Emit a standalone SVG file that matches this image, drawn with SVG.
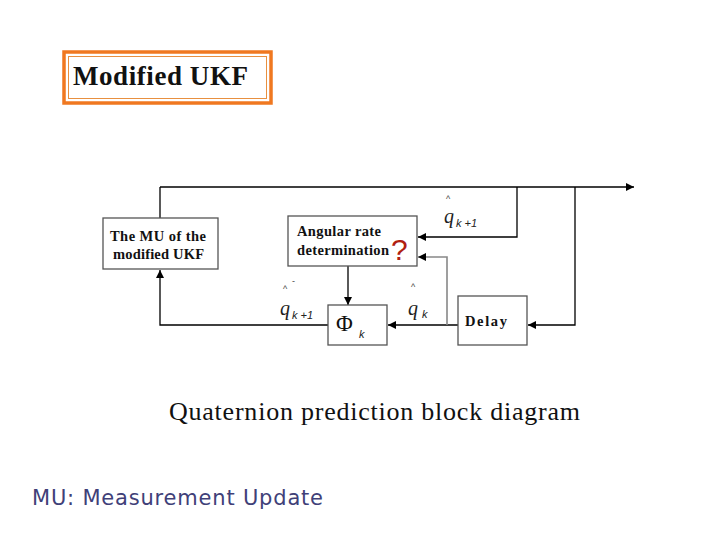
<svg xmlns="http://www.w3.org/2000/svg" width="720" height="540" viewBox="0 0 720 540">
<style>
.box{fill:#fff;stroke:#555;stroke-width:1.3}
.ln{fill:none;stroke:#000;stroke-width:1.3}
.gl{fill:none;stroke:#888;stroke-width:1.6}
.bt{font-family:"Liberation Serif",serif;font-weight:bold;font-size:14.5px;fill:#111}
.q{font-family:"Liberation Serif",serif;font-style:italic;font-size:20px;fill:#222}
.s{font-family:"Liberation Sans",sans-serif;font-style:italic;font-size:11px;fill:#222}
.h{font-family:"Liberation Sans",sans-serif;font-size:9px;fill:#444}
</style>
<defs>
<marker id="ah" viewBox="0 0 10 10" refX="10" refY="5" markerWidth="8" markerHeight="8" markerUnits="userSpaceOnUse" orient="auto"><path d="M0,0 L10,5 L0,10 z" fill="#000"/></marker>
</defs>
<rect width="720" height="540" fill="#fff"/>
<g id="title">
<rect x="64" y="52" width="207" height="51" fill="#fff" stroke="#f07820" stroke-width="3.5"/>
<rect x="68.5" y="56.5" width="198" height="42" fill="none" stroke="#e89040" stroke-width="1"/>
<text x="73" y="85" font-family="Liberation Serif,serif" font-weight="bold" font-size="27" fill="#111" textLength="175">Modified UKF</text>
</g>
<g id="connectors">
<line class="ln" x1="160" y1="187" x2="634" y2="187" marker-end="url(#ah)"/>
<line class="ln" x1="160" y1="187" x2="160" y2="218"/>
<polyline class="ln" points="328,325 160,325 160,270" marker-end="url(#ah)"/>
<line class="ln" x1="348" y1="266" x2="348" y2="305" marker-end="url(#ah)"/>
<line class="ln" x1="458" y1="325" x2="388" y2="325" marker-end="url(#ah)"/>
<polyline class="gl" points="447,325 447,257 418,257" marker-end="url(#ah)"/>
<polyline class="ln" points="517,187 517,237 418,237" marker-end="url(#ah)"/>
<polyline class="ln" points="575,187 575,325 528,325" marker-end="url(#ah)"/>
</g>
<g id="mu">
<rect class="box" x="103" y="218" width="115" height="51"/>
<text class="bt" x="110" y="241" textLength="96">The MU of the</text>
<text class="bt" x="113" y="259" textLength="91">modified UKF</text>
</g>
<g id="angular">
<rect class="box" x="288" y="216" width="129" height="50"/>
<text class="bt" x="297" y="236" textLength="84">Angular rate</text>
<text class="bt" x="297" y="255" textLength="92">determination</text>
<text x="391" y="260" font-family="Liberation Sans,sans-serif" font-size="30" fill="#b02010">?</text>
</g>
<g id="phi">
<rect class="box" x="328" y="305" width="59" height="40"/>
<text x="336" y="331" font-family="Liberation Serif,serif" font-size="23" fill="#111">Φ</text>
<text class="s" x="359" y="338">k</text>
</g>
<g id="delay">
<rect class="box" x="458" y="296" width="69" height="49"/>
<text class="bt" x="465" y="326" font-size="17" textLength="42">Delay</text>
</g>
<g id="labels">
<text class="h" x="446" y="202">^</text>
<text class="q" x="444" y="223">q</text>
<text class="s" x="456" y="227">k +1</text>
<text class="h" x="283" y="292">^</text>
<text class="h" x="292" y="284">-</text>
<text class="q" x="280" y="315">q</text>
<text class="s" x="292" y="319">k +1</text>
<text class="h" x="411" y="290" font-size="11">^</text>
<text class="q" x="408" y="315">q</text>
<text class="s" x="422" y="318">k</text>
</g>
<text x="169" y="420" font-family="Liberation Serif,serif" font-size="26" fill="#111" textLength="411">Quaternion prediction block diagram</text>
<text x="32" y="505" font-family="DejaVu Sans,sans-serif" font-size="21" fill="#404078" textLength="291">MU: Measurement Update</text>
</svg>
